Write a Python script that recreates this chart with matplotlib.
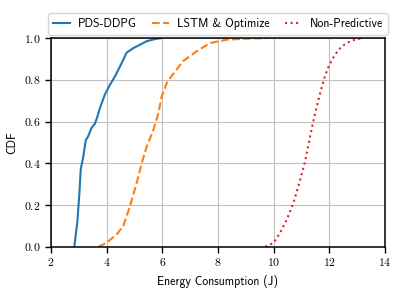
import numpy as np
import matplotlib
matplotlib.use("Agg")
import matplotlib.pyplot as plt

plt.rcParams['font.family'] = ['cmss10', 'DejaVu Sans']
plt.rcParams['mathtext.fontset'] = 'cm'
plt.rcParams['axes.unicode_minus'] = False

pds_x = [2.84, 2.95, 3.02, 3.07, 3.16, 3.25, 3.34, 3.46, 3.58, 3.66, 3.76, 3.94,
         4.12, 4.30, 4.54, 4.72, 4.96, 5.20, 5.44, 5.74, 5.98]
pds_y = [0.0, 0.12, 0.25, 0.37, 0.43, 0.51, 0.53, 0.57, 0.59, 0.62, 0.665, 0.73,
         0.776, 0.816, 0.88, 0.93, 0.952, 0.968, 0.985, 0.995, 1.0]

lstm_x = [3.70, 4.0, 4.36, 4.60, 4.84, 5.08, 5.26, 5.44, 5.68, 5.86, 5.98, 6.16,
          6.40, 6.75, 7.23, 7.71, 8.31, 9.0, 9.8]
lstm_y = [0.0, 0.02, 0.06, 0.10, 0.195, 0.306, 0.40, 0.48, 0.56, 0.64, 0.72, 0.785,
          0.83, 0.89, 0.936, 0.976, 0.992, 0.997, 1.0]

nonpred_x = [9.70, 10.0, 10.23, 10.47, 10.71, 10.95, 11.13, 11.31, 11.49, 11.67,
             11.84, 12.0, 12.20, 12.44, 12.74, 12.98, 13.22]
nonpred_y = [0.0, 0.02, 0.067, 0.13, 0.21, 0.32, 0.41, 0.53, 0.64, 0.737,
             0.817, 0.872, 0.92, 0.96, 0.984, 0.995, 1.0]

xticks = [2, 4, 6, 8, 10, 12, 14]
yticks = [0.0, 0.2, 0.4, 0.6, 0.8, 1.0]

fig = plt.figure(figsize=(4.04, 2.95), dpi=100)
ax = fig.add_axes([0.126, 0.163, 0.827, 0.708])

ax.plot(pds_x, pds_y, color='#1f77b4', lw=1.5, label='PDS-DDPG')
ax.plot(lstm_x, lstm_y, color='#ff7f0e', lw=1.5, ls='--', label='LSTM & Optimize')
ax.plot(nonpred_x, nonpred_y, color='#d62728', lw=1.5, ls=':', label='Non-Predictive')

ax.set_xlim(2, 14)
ax.set_ylim(0, 1)
ax.set_xticks(xticks)
ax.set_yticks(yticks)
ax.set_xticklabels(['$%d$' % t for t in xticks], fontsize=8.5)
ax.set_yticklabels(['$%.1f$' % t for t in yticks], fontsize=8.5)
ax.tick_params(length=4, width=1.0, color='black')
ax.grid(True, color='#c0c0c0', lw=0.8)
ax.set_axisbelow(True)
for s in ax.spines.values():
    s.set_linewidth(1.1)

ax.set_xlabel('Energy Consumption (J)', fontsize=8.5)
ax.set_ylabel('CDF', fontsize=8.5)

ax.legend(loc='lower center', bbox_to_anchor=(0.5, 1.0), ncol=3, fontsize=8.5,
          frameon=True, borderaxespad=0.3, handlelength=1.4, handletextpad=0.7,
          columnspacing=1.3, borderpad=0.4)

fig.savefig('out.png', dpi=100)
